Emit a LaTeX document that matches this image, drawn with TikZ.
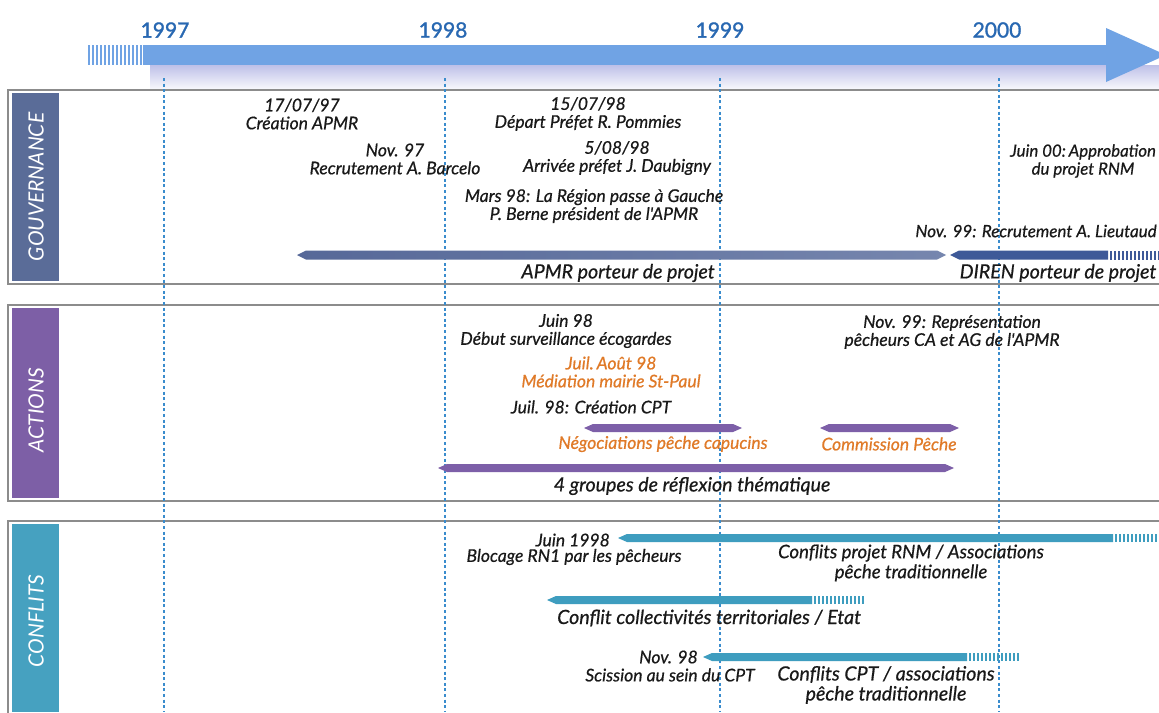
\documentclass[tikz,border=0pt]{standalone}
\usepackage{fontspec}
\setmainfont{Lato}
\newfontfamily\tltext{Lato}[FakeBold=0.6]
\newfontfamily\tlyear{Lato}[FakeBold=1.4]
\definecolor{yearc}{RGB}{40,104,178}
\definecolor{topc}{RGB}{112,163,228}
\definecolor{shadc}{RGB}{190,192,232}
\definecolor{gridc}{RGB}{58,140,205}
\definecolor{boxc}{RGB}{140,140,140}
\definecolor{govc}{RGB}{90,108,152}
\definecolor{actc}{RGB}{125,95,166}
\definecolor{conc}{RGB}{70,161,192}
\definecolor{apmrc}{RGB}{86,104,152}
\definecolor{apmrl}{RGB}{118,134,174}
\definecolor{direnc}{RGB}{62,89,152}
\definecolor{purc}{RGB}{125,95,168}
\definecolor{tealc}{RGB}{62,157,191}
\definecolor{orc}{RGB}{224,122,40}
\definecolor{txtc}{RGB}{25,25,25}
\newcommand{\tlbothbar}[5]{\fill[#5] (#1,#3) -- ({#1+9},{#3-#4}) -- ({#2-9},{#3-#4}) -- (#2,#3) -- ({#2-9},{#3+#4}) -- ({#1+9},{#3+#4}) -- cycle;}
\newcommand{\tlleftbar}[5]{\fill[#5] (#1,#3) -- ({#1+9},{#3-#4}) -- (#2,{#3-#4}) -- (#2,{#3+#4}) -- ({#1+9},{#3+#4}) -- cycle;}
\newcommand{\tlhatch}[5]{\pgfmathtruncatemacro{\tlhn}{(#2-#1)/4}\foreach \hi in {0,...,\tlhn}{\fill[#5] ({#1+\hi*4},{#3-#4}) rectangle ++(2.2,{2*#4});}}
\tikzset{
  lbl/.style={font=\tltext\fontsize{17.5}{18}\selectfont\itshape, text=txtc, align=center, inner sep=0pt},
  biglbl/.style={lbl, font=\tltext\fontsize{19.6}{20}\selectfont\itshape},
  olbl/.style={lbl, text=orc},
  year/.style={font=\tlyear\fontsize{21}{24}\selectfont, text=yearc, inner sep=0pt},
  sect/.style={font=\fontsize{21}{24}\selectfont\itshape, text=white, rotate=90, inner sep=0pt},
  gridline/.style={gridc, line width=1.8pt, dash pattern=on 3pt off 2.6pt},
  secbox/.style={draw=boxc, line width=1.4pt, fill=white}
}
\begin{document}
\begin{tikzpicture}[x=1pt,y=-1pt]
\useasboundingbox (0,0) rectangle (1159,712);
\fill[white] (0,0) rectangle (1159,712);
% top time arrow
\shade[top color=shadc, bottom color=white] (150,65) rectangle (1159,92);
\tlhatch{88}{140}{55}{10}{topc}
\fill[topc] (143,45) rectangle (1106,65);
\fill[topc] (1106,28) -- (1166,55) -- (1106,82) -- cycle;
\node[year] (y97) at (165,30) {1997};
\node[year] (y98) at (443,30) {1998};
\node[year] (y99) at (720,30) {1999};
\node[year] (y00) at (997,30) {2000};
% section boxes
\draw[secbox] (8,90) rectangle (1180,284);
\draw[secbox] (8,305) rectangle (1180,501);
\draw[secbox] (8,521) rectangle (1180,730);
\fill[govc] (12,93) rectangle (59,281);
\fill[actc] (12,308) rectangle (59,498);
\fill[conc] (12,524) rectangle (59,712);
\node[sect] (gov) at (36,187) {GOUVERNANCE};
\node[sect] (act) at (36,410) {ACTIONS};
\node[sect] (con) at (36,621) {CONFLITS};
% year grid lines
\foreach \gx in {164,445,720,999} \draw[gridline] (\gx,78) -- (\gx,712);
% governance
\node[lbl] (g1) at (302,114) {17/07/97\\Création APMR};
\node[lbl] (g2) at (395,159) {Nov. 97\\Recrutement A. Barcelo};
\node[lbl] (g3) at (588,114) {15/07/98\\Départ Préfet R. Pommies};
\node[lbl] (g4) at (617,158) {5/08/98\\Arrivée préfet J. Daubigny};
\node[lbl] (g5) at (594,206) {Mars 98: La Région passe à Gauche\\P. Berne président de l'APMR};
\node[lbl, font=\tltext\fontsize{16.8}{18}\selectfont\itshape] (g6) at (1083,161) {Juin 00:\,Approbation\\du projet RNM};
\node[lbl, font=\tltext\fontsize{17}{18}\selectfont\itshape] (g7) at (1036,231) {Nov. 99: Recrutement A. Lieutaud};
\shade[left color=apmrc, right color=apmrl] (297,255) -- (306,250.5) -- (937,250.5) -- (946,255) -- (937,259.5) -- (306,259.5) -- cycle;
\tlleftbar{950}{1108}{255}{4.5}{direnc}
\tlhatch{1110}{1159}{255}{4.5}{direnc}
\node[biglbl] (g8) at (618,273) {APMR porteur de projet};
\node[biglbl] (g9) at (1058,273) {DIREN porteur de projet};
% actions
\node[lbl] (a1) at (566,331) {Juin 98\\Début surveillance écogardes};
\node[olbl] (a2) at (611,372) {Juil.\,Août 98\\Médiation mairie St-Paul};
\node[lbl] (a3) at (591,407) {Juil. 98: Création CPT};
\tlbothbar{584}{742}{428}{4}{purc}
\tlbothbar{820}{959}{428}{4}{purc}
\node[olbl] (a4) at (663,444) {Négociations pêche capucins};
\node[olbl] (a5) at (889,444) {Commission Pêche};
\tlbothbar{438}{954}{468}{4}{purc}
\node[biglbl] (a6) at (692,486) {4 groupes de réflexion thématique};
\node[lbl] (a7) at (952,332) {Nov. 99: Représentation\\pêcheurs CA et AG de l'APMR};
% conflits
\tlleftbar{618}{1113}{538}{4}{tealc}
\tlhatch{1115}{1159}{538}{4}{tealc}
\node[lbl, anchor=east] (c1a) at (610,540) {Juin 1998};
\node[lbl] (c1b) at (574,557) {Blocage RN1 par les pêcheurs};
\node[biglbl, font=\tltext\fontsize{18.6}{20}\selectfont\itshape] (c2) at (911,563) {Conflits projet RNM / Associations\\pêche traditionnelle};
\tlleftbar{547}{812}{600}{4}{tealc}
\tlhatch{814}{865}{600}{4}{tealc}
\node[biglbl, anchor=west] (c3) at (557,618) {Conflit collectivités territoriales / Etat};
\tlleftbar{703}{967}{657}{4}{tealc}
\tlhatch{969}{1020}{657}{4}{tealc}
\node[lbl, anchor=east] (c4a) at (698,657) {Nov. 98};
\node[lbl] (c4b) at (670,675) {Scission au sein du CPT};
\node[biglbl] (c5) at (886,685) {Conflits CPT / associations\\pêche traditionnelle};
\end{tikzpicture}
\end{document}
